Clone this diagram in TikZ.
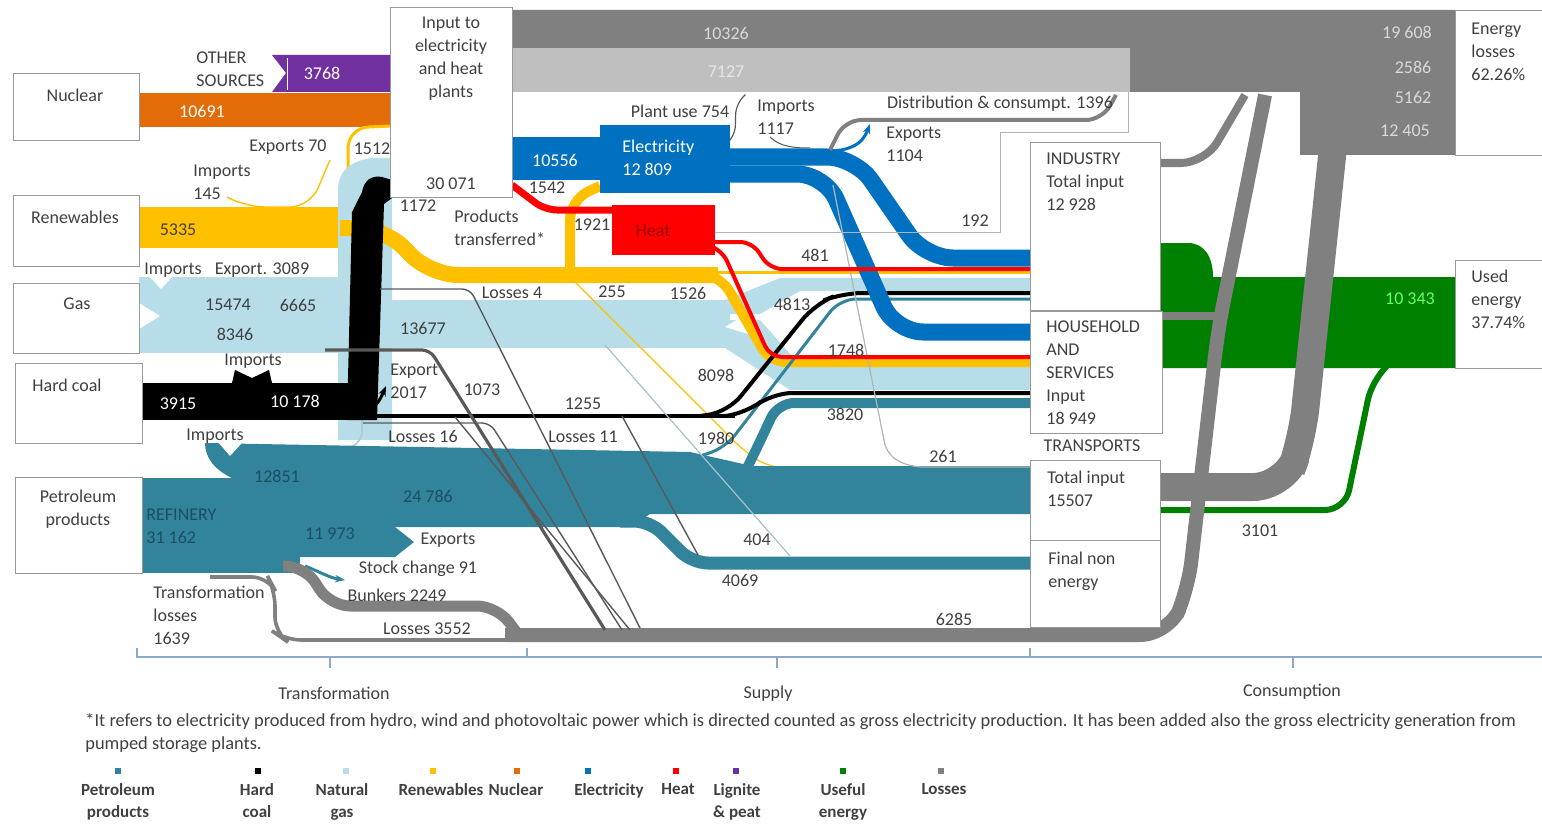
\documentclass[tikz,border=0pt]{standalone}
\usepackage{fontspec}
\setmainfont{Carlito}
\usetikzlibrary{arrows.meta}
\definecolor{petro}{HTML}{31849B}
\definecolor{gasc}{HTML}{B7DEE8}
\definecolor{renew}{HTML}{FFC000}
\definecolor{nucl}{HTML}{E36C09}
\definecolor{elec}{HTML}{0070C0}
\definecolor{heatc}{HTML}{FF0000}
\definecolor{lign}{HTML}{7030A0}
\definecolor{useful}{HTML}{008000}
\definecolor{lossd}{HTML}{808080}
\definecolor{lossl}{HTML}{BFBFBF}
\definecolor{txt}{HTML}{404040}
\definecolor{thinl}{HTML}{595959}
\definecolor{bracec}{HTML}{8EA9C8}
\definecolor{darkteal}{HTML}{1F4E63}
\tikzset{
 box/.style={draw=lossd!80, fill=white, line width=0.6pt, anchor=north west, inner sep=0pt},
 lbl/.style={text=txt, inner sep=0pt},
 lbll/.style={text=txt, inner sep=0pt, anchor=west},
 wlbl/.style={text=white, inner sep=0pt},
 thinln/.style={thinl, line width=0.7pt, rounded corners=4pt},
 legsq/.style={minimum size=3pt, inner sep=0pt},
 leglbl/.style={font=\fontsize{8.5}{11}\selectfont\bfseries, text=txt, align=center, anchor=north, inner sep=0pt},
 bracel/.style={bracec, line width=0.6pt},
}
\begin{document}
\begin{tikzpicture}[x=0.5pt,y=-0.5pt, font=\fontsize{9}{11.5}\selectfont]
\useasboundingbox (0,0) rectangle (1542,824);

% ---------- losses block (top) ----------
\fill[lossd] (512,10) -- (1455,10) -- (1455,155) -- (1300,155) -- (1300,92) -- (512,92) -- cycle;
\fill[lossl] (512,48) rectangle (1130,92);

% ---------- useful energy ----------
\fill[useful] (1160,243) -- (1188,243) .. controls (1205,243) and (1213,258) .. (1213,277) -- (1455,277) -- (1455,368) -- (1160,368) -- cycle;
\draw[useful, line width=3pt, rounded corners=10pt] (1160,510) -- (1345,510) -- (1372,380) -- (1385,368);

% ---------- loss flows from consumption ----------
\draw[lossd, line width=14pt, rounded corners=16pt] (1160,487) -- (1285,487) -- (1302,440) -- (1338,100);
\draw[lossd, line width=7pt, rounded corners=14pt] (505,635) -- (1168,635) -- (1188,590) -- (1218,330) -- (1265,95);
\draw[lossd, line width=4pt, rounded corners=12pt] (1160,163) -- (1205,163) -- (1245,95);
\draw[lossd, line width=4pt] (1162,316) -- (1217,316);

% ---------- other sources / nuclear ----------
\fill[lign] (272,55) -- (390,55) -- (390,92) -- (272,92) -- (286,73) -- cycle;
\draw[white, line width=0.4pt] (287,58) -- (287,90);
\fill[nucl] (139,93) rectangle (390,127);

% ---------- renewables ----------
\fill[renew] (139,207) rectangle (362,248);
\draw[renew, line width=1.5pt, rounded corners=10pt] (348,207) -- (348,128) -- (390,126);
\draw[renew, line width=0.7pt, rounded corners=10pt] (227,197) -- (245,207) -- (310,207) -- (330,160);

% ---------- natural gas ----------
\fill[gasc] (139,277) rectangle (362,353);
\fill[white] (150,277) -- (172,277) -- (161,289) -- cycle;
\fill[white] (139,303) -- (160,316) -- (139,329) -- cycle;
\fill[gasc] (338,440) -- (338,190) .. controls (338,168) and (355,160) .. (372,158) -- (392,158) -- (392,440) -- cycle;
\draw[gasc!80!gray, line width=0.8pt, rounded corners=8pt] (362,420) -- (362,447) -- (280,452);
\fill[gasc] (385,300) rectangle (730,348);
\fill[gasc] (725,300) -- (780,278) -- (1030,278) -- (1030,291) -- (800,291) -- (760,314) -- (725,314) -- cycle;
\fill[gasc] (725,320) -- (760,320) -- (800,365) -- (1030,365) -- (1030,390) -- (790,390) -- (725,348) -- cycle;
\fill[white] (745,315) -- (725,327) -- (748,334) -- cycle;

% ---------- renewables continued ----------
\draw[renew, line width=8pt, rounded corners=14pt] (340,228) -- (385,228) -- (430,275) -- (718,275);
\draw[renew, line width=5pt, rounded corners=10pt] (570,272) -- (570,200) -- (600,186);
\draw[renew, line width=5pt, rounded corners=8pt] (710,275) -- (722,278) -- (770,362) -- (1030,362);
\draw[renew, line width=1.5pt] (710,272) -- (1030,272);
\draw[renew, line width=0.6pt, rounded corners=8pt] (575,282) -- (745,452) -- (770,468) -- (1030,468);

% ---------- petroleum ----------
\fill[petro] (142,478) rectangle (300,573);
\fill[petro] (205,443) -- (690,452) -- (752,466) -- (1030,466) -- (1030,514) -- (650,514) -- (630,527) -- (300,527) -- (300,478) -- (232,478) .. controls (215,470) and (205,458) .. (205,443) -- cycle;
\fill[white] (218,442) -- (242,443) -- (230,456) -- cycle;
\fill[petro] (298,527) -- (395,527) -- (414,542) -- (395,557) -- (298,557) -- cycle;
\draw[petro, line width=6.5pt, rounded corners=8pt] (620,521) -- (650,521) -- (692,563) -- (1030,563);
\draw[petro, line width=5pt, rounded corners=8pt] (745,472) -- (755,452) -- (778,403) -- (1030,403);
\draw[petro, line width=1.5pt, rounded corners=8pt] (700,456) -- (725,448) -- (840,299) -- (1030,299);
\draw[petro, line width=1.5pt, -{Stealth[length=5pt]}] (305,566) .. controls (320,572) and (330,578) .. (345,580);

% ---------- hard coal ----------
\fill[black] (142,383) rectangle (362,420);
\fill[black] (232,383) -- (235,370) -- (252,378) -- (269,370) -- (272,383) -- cycle;
\fill[black] (347,420) -- (352,212) -- (362,192) .. controls (364,180) and (372,175) .. (382,177) -- (392,180) -- (392,198) -- (384,204) -- (377,420) -- cycle;
\draw[black, line width=2.2pt] (360,416) -- (735,416);
\draw[black, line width=2pt, rounded corners=10pt] (700,416) -- (728,412) -- (815,304) -- (842,293) -- (1030,293);
\draw[black, line width=2pt, rounded corners=10pt] (725,416) -- (745,414) -- (772,393) -- (1030,393);
\draw[black, line width=1.5pt, -{Stealth[length=5pt]}] (362,412) .. controls (375,410) and (380,400) .. (386,386);

% ---------- thin lines (losses, small flows) ----------
\draw[thinln] (380,289) -- (470,289) -- (640,628);
\draw[thinl, line width=1.6pt, rounded corners=4pt] (325,350) -- (430,350) -- (605,630);
\draw[thinln] (363,423) -- (490,423) -- (622,630);
\draw[thinln] (455,417) -- (630,630);
\draw[thinln] (622,416) -- (698,555);
\draw[gasc!70!gray, line width=0.6pt] (605,345) -- (790,556);
\draw[lossd, line width=1.8pt, rounded corners=8pt] (210,577) -- (268,577) -- (275,590) -- (275,633) -- (285,640) -- (520,640);
\draw[lossd, line width=5.5pt, rounded corners=10pt] (283,566) -- (305,566) -- (330,606) -- (497,606) -- (517,633);

% ---------- electricity ----------
\fill[elec] (512,137) rectangle (602,180);
\draw[elec, line width=8.5pt, rounded corners=14pt] (728,157) -- (855,157) -- (925,258) -- (1030,258);
\draw[elec, line width=8.5pt, rounded corners=14pt] (728,174) -- (825,174) -- (895,332) -- (1030,332);
\draw[elec, line width=1.5pt, -{Stealth[length=5pt]}] (815,152) .. controls (850,152) and (862,145) .. (870,124);
\draw[lossd!60, line width=0.6pt, rounded corners=6pt] (833,185) -- (887,455) -- (910,467) -- (1030,467);
\draw[lossd, line width=2pt, rounded corners=8pt] (830,150) -- (845,120) -- (1102,120) -- (1116,95);
\draw[thinl, line width=0.6pt, rounded corners=6pt] (725,145) -- (735,138) -- (736,102) -- (745,95);
\draw[thinl, line width=0.5pt] (770,137) .. controls (780,147) and (795,148) .. (810,148);
\draw[lossd!60, line width=0.5pt] (715,232) -- (1000,232) -- (1000,133) -- (1128,133) -- (1128,92);
\node[fill=elec, minimum width=65pt, minimum height=34pt, anchor=north west, inner sep=0pt] (elecbox) at (600,125) {};

% ---------- heat ----------
\draw[heatc, line width=3.5pt, rounded corners=6pt] (512,185) -- (545,210) -- (612,210);
\draw[heatc, line width=2pt, rounded corners=6pt] (713,242) -- (752,242) -- (770,269) -- (1030,269);
\draw[heatc, line width=2pt, rounded corners=6pt] (713,247) -- (722,250) -- (770,357) -- (1030,357);
\node[fill=heatc, minimum width=51.5pt, minimum height=25pt, anchor=north west, inner sep=0pt] (heatbox) at (612,205) {};

% ---------- boxes ----------
\node[box, minimum width=61pt, minimum height=95pt] (inbox) at (390,7) {};
\node[box, minimum width=63pt, minimum height=33.5pt] (nucbox) at (13,73) {};
\node[box, minimum width=63pt, minimum height=35.5pt] (renbox) at (13,195) {};
\node[box, minimum width=63pt, minimum height=35pt] (gasbox) at (13,283) {};
\node[box, minimum width=63.5pt, minimum height=40pt] (coalbox) at (15,363) {};
\node[box, minimum width=63.5pt, minimum height=48pt] (petbox) at (15,477) {};
\node[box, minimum width=65pt, minimum height=84pt] (indbox) at (1030,142) {};
\node[box, minimum width=66pt, minimum height=61pt] (hhbox) at (1030,311) {};
\node[box, minimum width=65pt, minimum height=40pt] (trbox) at (1030,460) {};
\node[box, minimum width=65pt, minimum height=43.5pt] (fnebox) at (1030,540) {};
\node[box, minimum width=45pt, minimum height=72.5pt] (elbox) at (1455,10) {};
\node[box, minimum width=45pt, minimum height=54pt] (uebox) at (1455,260) {};

% ---------- box texts ----------
\node[lbl] (tnuc) at (75,95) {Nuclear};
\node[lbl] (tren) at (75,217) {Renewables};
\node[lbl] (tgas) at (77,304) {Gas};
\node[lbl] (tcoal) at (67,385) {Hard coal};
\node[lbl, align=center] (tpet) at (78,509) {Petroleum\\products};
\node[lbl, align=center, anchor=north] (tin) at (451,17) {Input to\\electricity\\and heat\\plants};
\node[lbl] (tin2) at (451,184) {30 071};
\node[lbll, align=left, anchor=north west] (tind) at (1046,152) {INDUSTRY\\Total input\\12 928};
\node[lbll, align=left, anchor=north west] (thh) at (1046,320) {HOUSEHOLD\\AND\\SERVICES\\Input\\18 949};
\node[lbl] (ttrl) at (1092,446) {TRANSPORTS};
\node[lbll, align=left, anchor=north west] (ttr) at (1047,471) {Total input\\15507};
\node[lbll, align=left, anchor=north west] (tfne) at (1048,552) {Final non\\energy};
\node[lbll, align=left, anchor=north west] (tel) at (1471,23) {Energy\\losses\\62.26\%};
\node[lbll, align=left, anchor=north west] (tue) at (1471,270) {Used\\energy\\37.74\%};
\node[text=white, align=left, anchor=north west, inner sep=0pt] (telec) at (622,140) {Electricity\\12 809};
\node[text=heatc!60!black, inner sep=0pt] (theat) at (653,231) {Heat};

% ---------- flow labels ----------
\node[lbll, align=left, anchor=north west] (tother) at (196,51) {OTHER\\SOURCES};
\node[wlbl] (n3768) at (322,73) {3768};
\node[wlbl] (n10691) at (202,111) {10691};
\node[lbl] (nexp70) at (288,147) {Exports 70};
\node[lbl] (n1512) at (372,149) {1512};
\node[lbll, align=left, anchor=north west] (nimp145) at (193,165) {Imports\\145};
\node[lbl] (n5335) at (178,230) {5335};
\node[lbl] (nimpg) at (173,270) {Imports};
\node[lbl] (nexpg) at (262,270) {Export. 3089};
\node[lbl] (n15474) at (228,305) {15474};
\node[lbl] (n6665) at (298,305) {6665};
\node[lbl] (n8346) at (235,334) {8346};
\node[lbl] (nimpc) at (253,361) {Imports};
\node[wlbl] (n3915) at (178,404) {3915};
\node[wlbl] (n10178) at (295,401) {10 178};
\node[lbl] (nimpp) at (215,436) {Imports};
\node[text=darkteal, inner sep=0pt] (n12851) at (277,476) {12851};
\node[text=darkteal, inner sep=0pt] (n24786) at (428,496) {24 786};
\node[text=darkteal, align=left, anchor=north west, inner sep=0pt] (nref) at (146,509) {REFINERY\\31 162};
\node[text=darkteal, inner sep=0pt] (n11973) at (330,534) {11 973};
\node[lbl] (nexpp) at (448,540) {Exports};
\node[lbl] (nstock) at (418,569) {Stock change 91};
\node[lbl] (nbunk) at (397,595) {Bunkers 2249};
\node[lbl] (nl3552) at (427,629) {Losses 3552};
\node[lbll, align=left, anchor=north west] (ntl) at (153,586) {Transformation\\losses\\1639};
\node[lbl] (n1172) at (418,206) {1172};
\node[lbll, align=left, anchor=north west] (nprod) at (454,210) {Products\\transferred*};
\node[wlbl] (n10556) at (555,160) {10556};
\node[lbl] (n1542) at (547,188) {1542};
\node[lbl] (n1921) at (592,225) {1921};
\node[lbl] (nplant) at (680,111) {Plant use 754};
\node[lbll, align=left, anchor=north west] (nimpe) at (757,100) {Imports\\1117};
\node[lbl] (ndist) at (1000,104) {Distribution \& consumpt. 1396};
\node[lbll, align=left, anchor=north west] (nexpe) at (886,127) {Exports\\1104};
\node[lbl] (n192) at (975,221) {192};
\node[lbl] (n481) at (815,255) {481};
\node[lbl] (nl4) at (512,293) {Losses 4};
\node[lbl] (n255) at (612,292) {255};
\node[lbl] (n1526) at (688,293) {1526};
\node[lbl] (n13677) at (423,328) {13677};
\node[lbl] (n4813) at (792,304) {4813};
\node[lbl] (n1748) at (846,350) {1748};
\node[lbl] (n8098) at (716,375) {8098};
\node[lbll, align=left, anchor=north west] (nexpc) at (390,364) {Export\\2017};
\node[lbl] (n1073) at (482,390) {1073};
\node[lbl] (n1255) at (583,404) {1255};
\node[lbl] (n3820) at (845,414) {3820};
\node[lbl] (nl16) at (423,436) {Losses 16};
\node[lbl] (nl11) at (583,437) {Losses 11};
\node[lbl] (n1980) at (716,438) {1980};
\node[lbl] (n261) at (943,456) {261};
\node[lbl] (n404) at (757,540) {404};
\node[lbl] (n4069) at (740,580) {4069};
\node[lbl] (n6285) at (954,619) {6285};
\node[lbl] (n3101) at (1260,531) {3101};
\node[text=green!60!white, inner sep=0pt] (n10343) at (1410,299) {10 343};
\node[text=white!85!black, inner sep=0pt] (n10326) at (726,33) {10326};
\node[text=white!90!black, inner sep=0pt] (n7127) at (726,72) {7127};
\node[text=white!85!black, inner sep=0pt] (n19608) at (1407,32) {19 608};
\node[text=white!85!black, inner sep=0pt] (n2586) at (1413,67) {2586};
\node[text=white!85!black, inner sep=0pt] (n5162) at (1413,97) {5162};
\node[text=white!85!black, inner sep=0pt] (n12405) at (1405,131) {12 405};

% ---------- bottom braces ----------
\draw[bracel] (137,648) -- (137,657) -- (527,657) -- (527,648);
\draw[bracel] (527,648) -- (527,657) -- (1030,657) -- (1030,648);
\draw[bracel] (1030,648) -- (1030,657) -- (1542,657);
\draw[bracel] (330,657) -- (330,668);
\draw[bracel] (777,657) -- (777,668);
\draw[bracel] (1293,657) -- (1293,668);
\node[lbl] (ttrans) at (334,693) {Transformation};
\node[lbl] (tsup) at (768,694) {Supply};
\node[lbl] (tcons) at (1292,692) {Consumption};

% ---------- footnote ----------
\node[lbll, anchor=west, font=\fontsize{9.2}{11}\selectfont] (foot1) at (85,722) {*It refers to electricity produced from hydro, wind and photovoltaic power which is directed counted as gross electricity production. It has been added also the gross electricity generation from};
\node[lbll, anchor=west, font=\fontsize{9.2}{11}\selectfont] (foot2) at (85,745) {pumped storage plants.};

% ---------- legend ----------
\node[legsq, fill=petro] (q1) at (118,771) {};
\node[legsq, fill=black] (q2) at (258,771) {};
\node[legsq, fill=gasc] (q3) at (346,771) {};
\node[legsq, fill=renew] (q4) at (433,771) {};
\node[legsq, fill=nucl] (q5) at (517,771) {};
\node[legsq, fill=elec] (q6) at (588,771) {};
\node[legsq, fill=heatc] (q7) at (676,771) {};
\node[legsq, fill=lign] (q8) at (736,771) {};
\node[legsq, fill=useful] (q9) at (843,771) {};
\node[legsq, fill=lossd] (q10) at (941,771) {};
\node[leglbl] (l1) at (118,783) {Petroleum\\products};
\node[leglbl] (l2) at (257,783) {Hard\\coal};
\node[leglbl] (l3) at (342,783) {Natural\\gas};
\node[leglbl] (l4) at (441,783) {Renewables};
\node[leglbl] (l5) at (516,783) {Nuclear};
\node[leglbl] (l6) at (609,783) {Electricity};
\node[leglbl] (l7) at (678,783) {Heat};
\node[leglbl] (l8) at (737,783) {Lignite\\\& peat};
\node[leglbl] (l9) at (843,783) {Useful\\energy};
\node[leglbl] (l10) at (944,783) {Losses};
\end{tikzpicture}
\end{document}
